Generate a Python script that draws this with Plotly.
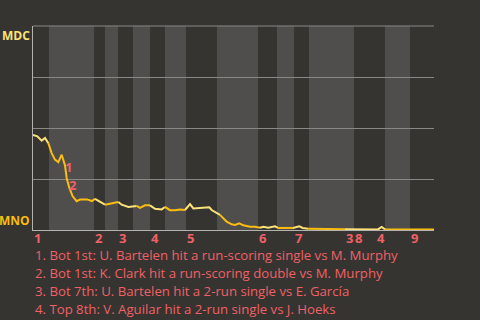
import plotly.graph_objects as go

# ---- data (x = plate-appearance sequence position, y = MDC win probability %) ----
pa_x = [0, 1.3, 2.6, 3.6, 4.6, 5.6, 6.6, 7.6, 8.6, 9.6, 10.1, 10.9, 11.9, 13.1, 14.1,
        16.2, 17.7, 18.6, 20.1, 21.6, 23.1, 25.6, 26.6, 28.6, 31.1, 32.1, 33.6, 35.1,
        36.6, 38.6, 39.6, 41.1, 42.6, 44.1, 45.6, 47.1, 48.1, 52.9, 53.6, 56.1, 58.1,
        59.6, 60.6, 61.9, 63.1, 65.1, 66.6, 68.1, 69.1, 70.6, 72.6, 73.5, 78.0, 79.9,
        80.9, 82.5, 89.0, 93.6, 103.5, 104.6, 105.6, 120.3]
mdc_win_pct = [46.6, 45.9, 43.8, 45.1, 42.6, 37.7, 34.5, 33.2, 36.9, 31.7, 25.5, 20.6,
               16.5, 14.1, 14.9, 15.0, 14.2, 15.3, 13.7, 12.4, 12.9, 13.7, 12.4, 11.3,
               11.8, 10.8, 12.1, 12.1, 10.4, 10.1, 11.3, 9.7, 9.7, 10.1, 9.8, 12.7, 10.6,
               11.1, 9.8, 7.4, 4.1, 2.8, 2.5, 3.3, 2.3, 1.6, 1.6, 1.1, 1.6, 1.1, 1.8, 1.0,
               1.0, 1.8, 1.0, 0.6, 0.5, 0.4, 0.3, 1.5, 0.3, 0.3]

# half-inning boundaries (top 1st, bot 1st, top 2nd, ...), last value = end
half_bounds = [0, 4.8, 18.3, 21.6, 25.5, 30.0, 35.1, 39.6, 45.9, 55.2, 67.5, 73.2,
               78.3, 82.8, 96.3, 105.6, 113.1, 120.3]
inning_labels = ["1", "2", "3", "4", "5", "6", "7", "8", "9"]

event_labels = ["1", "2", "3", "4"]
event_label_x = [10.6, 11.9, 94.8, 104.4]
event_label_y = [31.0, 22.0, None, None]  # None -> shown under the axis

event_texts = [
    "1. Bot 1st: U. Bartelen hit a run-scoring single vs M. Murphy",
    "2. Bot 1st: K. Clark hit a run-scoring double vs M. Murphy",
    "3. Bot 7th: U. Bartelen hit a 2-run single vs E. García",
    "4. Top 8th: V. Aguilar hit a 2-run single vs J. Hoeks",
]
teams = ["MDC", "MNO"]

# ---- styles ----
BG = "#363430"
BAND = "#4f4e4c"
GOLD = "#fbbd12"
PALE = "#fbe27a"
RED = "#ef6167"
FONT = "Open Sans, sans-serif"

fig = go.Figure()


def half_index(x):
    for i in range(len(half_bounds) - 1):
        if half_bounds[i] <= x < half_bounds[i + 1]:
            return i
    return len(half_bounds) - 2


# group consecutive segments by half-inning parity (top = pale, bottom = gold)
segs = []
for i in range(len(pa_x) - 1):
    mid = (pa_x[i] + pa_x[i + 1]) / 2
    parity = half_index(mid) % 2
    if segs and segs[-1][0] == parity:
        segs[-1][1].append(i + 1)
    else:
        segs.append([parity, [i, i + 1]])

for parity, idx in segs:
    fig.add_trace(go.Scatter(
        x=[pa_x[k] for k in idx], y=[mdc_win_pct[k] for k in idx],
        mode="lines", line=dict(color=GOLD if parity else PALE, width=2),
        hoverinfo="skip", showlegend=False))

shapes = []
for i in range(len(half_bounds) - 1):
    if i % 2 == 1:
        shapes.append(dict(type="rect", xref="x", yref="paper",
                           x0=half_bounds[i], x1=half_bounds[i + 1], y0=0, y1=1,
                           fillcolor=BAND, line_width=0, layer="below"))
# top frame line (gridline at 100 %)
shapes.append(dict(type="line", xref="paper", yref="paper", x0=0, x1=1, y0=1, y1=1,
                   line=dict(color="#8a8885", width=1), layer="above"))

annotations = []
for j, lab in enumerate(inning_labels):
    annotations.append(dict(x=half_bounds[2 * j], y=0, xref="x", yref="paper",
                            text="<b>" + lab + "</b>", showarrow=False, xanchor="left",
                            yanchor="middle", xshift=0, yshift=-8, borderpad=0,
                            font=dict(family=FONT, size=13, color=RED)))
for lab, ex, ey in zip(event_labels, event_label_x, event_label_y):
    if ey is None:
        annotations.append(dict(x=ex, y=0, xref="x", yref="paper", text="<b>" + lab + "</b>",
                                showarrow=False, xanchor="center", yanchor="middle",
                                yshift=-8, borderpad=0,
                                font=dict(family=FONT, size=13, color=RED)))
    else:
        annotations.append(dict(x=ex, y=ey, xref="x", yref="y", text="<b>" + lab + "</b>",
                                showarrow=False, xanchor="center", yanchor="middle",
                                borderpad=0,
                                font=dict(family=FONT, size=13, color=RED)))
for k, t in enumerate(event_texts):
    annotations.append(dict(x=0, y=0, xref="paper", yref="paper", text=t,
                            showarrow=False, xanchor="left", yanchor="middle",
                            xshift=1, yshift=-25 - 18 * k, borderpad=0,
                            font=dict(family=FONT, size=13.2, color=RED)))
annotations.append(dict(x=0, y=1, xref="paper", yref="paper", text="<b>" + teams[0] + "</b>",
                        showarrow=False, xanchor="right", yanchor="top", xshift=-2,
                        borderpad=0, font=dict(family=FONT, size=12, color=PALE)))
annotations.append(dict(x=0, y=0, xref="paper", yref="paper", text="<b>" + teams[1] + "</b>",
                        showarrow=False, xanchor="right", yanchor="bottom", xshift=-2,
                        borderpad=0, font=dict(family=FONT, size=12, color=GOLD)))

fig.update_layout(
    width=480, height=320,
    margin=dict(l=33, r=46, t=26, b=90),
    paper_bgcolor=BG, plot_bgcolor=BG,
    shapes=shapes, annotations=annotations,
    xaxis=dict(range=[0, 120.3], showgrid=False, zeroline=False, showticklabels=False,
               showline=True, linecolor="#b4b2ae", linewidth=1, fixedrange=True),
    yaxis=dict(range=[0, 100], tickvals=[0, 25, 50, 75, 100], showticklabels=False,
               showgrid=True, gridcolor="#8a8885", gridwidth=1, zeroline=False,
               showline=True, linecolor="#b4b2ae", linewidth=1, fixedrange=True),
    showlegend=False,
)

fig.write_html("out.html", config={"displayModeBar": False})
